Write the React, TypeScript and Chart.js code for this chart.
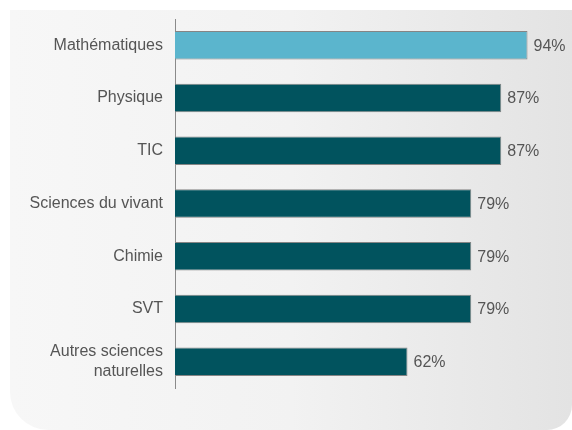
import React, { useEffect, useRef } from "react";
import { Chart, registerables } from "chart.js";

Chart.register(...registerables);

const categories: (string | string[])[] = [
  "Mathématiques",
  "Physique",
  "TIC",
  "Sciences du vivant",
  "Chimie",
  "SVT",
  ["Autres sciences", "naturelles"],
];
const values: number[] = [94, 87, 87, 79, 79, 79, 62];
const barColors: string[] = ["#5bb5cd", "#01535e", "#01535e", "#01535e", "#01535e", "#01535e", "#01535e"];

const FONT = "'Liberation Sans', Arial, sans-serif";

const valueLabels = {
  id: "valueLabels",
  afterDatasetsDraw(chart: any) {
    const ctx = chart.ctx;
    const meta = chart.getDatasetMeta(0);
    ctx.save();
    ctx.font = `16px ${FONT}`;
    ctx.fillStyle = "#555555";
    ctx.textAlign = "left";
    ctx.textBaseline = "middle";
    meta.data.forEach((bar: any, i: number) => {
      ctx.fillText(`${values[i]}%`, bar.x + 6, bar.y + 1);
    });
    ctx.restore();
  },
};

export default function App() {
  const ref = useRef<HTMLCanvasElement | null>(null);
  useEffect(() => {
    if (!ref.current) return;
    const chart = new Chart(ref.current, {
      type: "bar",
      data: {
        labels: categories as any,
        datasets: [
          {
            data: values,
            backgroundColor: barColors,
            borderColor: "#858585",
            borderWidth: 1,
            barPercentage: 0.54,
            categoryPercentage: 1,
          },
        ],
      },
      options: {
        indexAxis: "y",
        animation: false,
        responsive: false,
        maintainAspectRatio: false,
        layout: { padding: { top: 19, bottom: 42, right: 22, left: 0 } },
        plugins: { legend: { display: false }, tooltip: { enabled: false } },
        scales: {
          x: { display: false, min: 0, max: 100 },
          y: {
            afterFit(scale: any) {
              scale.width = 175;
              scale.paddingTop = 0;
              scale.paddingBottom = 0;
            },
            grid: { display: false, drawTicks: false },
            border: { display: true, color: "#8a8a8a", width: 1 },
            ticks: {
              padding: 12,
              color: "#555555",
              font: { family: FONT, size: 16, lineHeight: 1.2 },
            },
          },
        },
      },
      plugins: [valueLabels],
    });
    return () => chart.destroy();
  }, []);

  return (
    <div style={{ position: "absolute", left: 0, top: 0, width: 572, height: 430, background: "#ffffff", overflow: "hidden" }}>
      <div
        style={{
          position: "absolute",
          left: 10,
          top: 10,
          width: 562,
          height: 420,
          background: "linear-gradient(to right, #f7f7f7 0%, #f2f2f2 50%, #e3e3e3 100%)",
          borderRadius: "0 0 25px 38px",
        }}
      />
      <canvas ref={ref} width={572} height={430} style={{ position: "absolute", left: 0, top: 0, width: 572, height: 430 }} />
    </div>
  );
}
